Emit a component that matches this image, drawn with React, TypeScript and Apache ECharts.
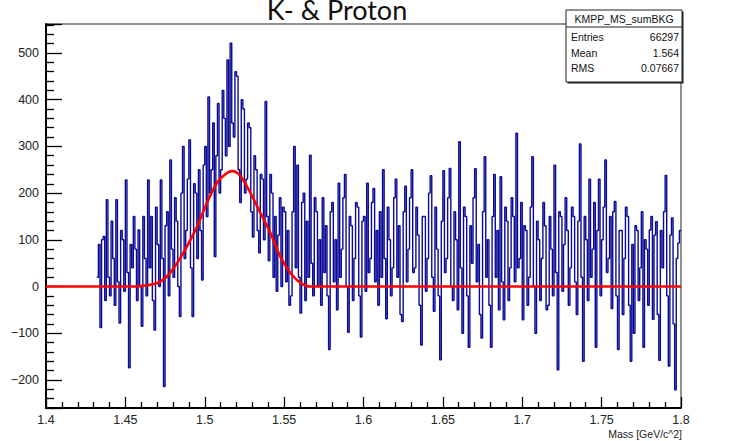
import React, { useEffect, useRef } from 'react';
import * as echarts from 'echarts';

const chartTitle = 'K- & Proton';
const xAxisTitle = 'Mass [GeV/c^2]';
const statsName = 'KMPP_MS_sumBKG';
const statsLabels = ['Entries', 'Mean', 'RMS'];
const statsValues = ['66297', '1.564', '0.07667'];

const binStart = 1.432;
const binWidth = 0.001;
const counts = [
  20, 90, -88, 100, 107, -30, 186, 20, -20, 140,
  60, -40, 186, 10, -78, 120, 100, -10, 228, 30,
  -174, 90, 40, 150, 80, -30, 121, 0, -85, 150,
  60, -20, 228, 40, 150, -30, -93, 170, 90, 0,
  228, 60, -214, 130, 160, -20, 271, 80, 20, 190,
  140, 0, -64, 200, 300, 60, 120, 230, 314, 40,
  -64, 220, 200, 60, 250, 120, 14, 260, 300, 150,
  406, 200, 250, 350, 64, 280, 392, 200, 250, 420,
  360, 280, 485, 300, 521, 350, 320, 460, 450, 250,
  180, 400, 380, 200, 230, 350, 340, 160, 106, 280,
  250, 120, 72, 240, 230, 100, 396, 150, 55, 240,
  200, 20, 150, -10, 110, 190, 0, 170, 160, 10,
  120, -40, -20, 160, 300, 40, 260, 20, -57, 180,
  200, -30, 140, 20, 281, 50, -20, 190, 160, 0,
  100, -40, 190, 30, 130, -20, -135, 160, 180, 10,
  100, -50, 221, 20, 80, 190, 240, 0, -98, 150,
  130, -30, 60, 180, 170, -20, -108, 140, 150, -10,
  221, 30, 60, 180, 210, 10, 120, -40, 160, 20,
  250, 60, -69, 170, 100, -20, 40, 190, 230, 20,
  130, -60, -75, 160, 215, 10, 80, 190, 250, 30,
  40, 170, 110, -40, -125, 150, 150, -10, 60, 200,
  237, 20, -53, 170, 80, -20, -157, 140, 248, 30,
  60, 190, 253, 0, -30, 160, 100, -50, 310, 40,
  -100, 170, 150, -20, -130, 130, 50, 190, 252, 10,
  90, -60, -110, 160, 278, 20, 100, -40, -130, 150,
  240, 20, 120, -50, 235, 10, -71, 170, 140, -30,
  40, 190, 150, 10, 328, 40, 60, 180, -71, 130,
  120, -40, 20, 170, 278, 0, -100, 140, 100, -30,
  60, 180, 130, -50, -40, 150, 80, -20, 260, 30,
  -178, 160, 150, -10, 90, 190, 120, -40, 40, 170,
  150, 10, -60, 140, 305, 20, -160, 150, 100, -30,
  230, 20, 80, 180, -130, 120, 230, -20, 100, 170,
  271, 30, 60, 150, -47, 160, 182, -20, -135, 120,
  120, -60, 60, 170, 150, -40, -160, 90, -100, 130,
  120, -30, 40, 160, -130, 100, 80, -40, 121, 150,
  -70, 110, 139, -60, -158, 120, 40, 160, 238, -20,
  -170, 110, 147, -80, -221, 60, 93, 120,
];

const fitMass = [1.4, 1.455, 1.462, 1.4698, 1.476, 1.4825, 1.4888, 1.4951, 1.5014, 1.5077, 1.514, 1.5175, 1.5224, 1.5287, 1.535, 1.5413, 1.5476, 1.554, 1.5603, 1.5666, 1.575, 1.6, 1.8];
const fitValue = [0, 0, 2, 7, 21, 50, 86, 128, 179, 222, 243, 247, 237, 201, 158, 115, 64, 29, 8, 0, 0, 0, 0];

const fmtY = (v: number) => (v < 0 ? '\u2212' + Math.abs(v) : String(v));
const fmtX = (v: number) => String(parseFloat(Number(v).toFixed(3)));

export default function App() {
  const ref = useRef<HTMLDivElement>(null);
  useEffect(() => {
    const chart = echarts.init(ref.current as HTMLDivElement, null, { renderer: 'svg' });
    const histData: number[][] = counts.map((v, i) => [binStart + i * binWidth, v]);
    histData.push([binStart + counts.length * binWidth, counts[counts.length - 1]]);
    const fitData = fitMass.map((m, i) => [m, fitValue[i]]);
    const labelFont = 'Liberation Sans, Arial, sans-serif';
    const statsX = 566, statsY = 10, statsW = 116, statsH = 72;
    const graphic: any[] = [
      {
        type: 'text', x: 337, y: 9, z: 100,
        style: { text: chartTitle, font: '27px Lato, sans-serif', fill: '#111', textAlign: 'center', textVerticalAlign: 'middle' },
      },
      {
        type: 'text', x: 682, y: 434, z: 100,
        style: { text: xAxisTitle, font: '10.5px ' + labelFont, fill: '#222', textAlign: 'right', textVerticalAlign: 'middle' },
      },
      { type: 'rect', z: 100, shape: { x: statsX + 1.5, y: statsY + 1.5, width: statsW, height: statsH }, style: { fill: '#222' } },
      { type: 'rect', z: 101, shape: { x: statsX, y: statsY, width: statsW, height: statsH }, style: { fill: '#fff', stroke: '#222', lineWidth: 1 } },
      { type: 'line', z: 102, shape: { x1: statsX, y1: 27, x2: statsX + statsW, y2: 27 }, style: { stroke: '#222', lineWidth: 1 } },
      {
        type: 'text', x: statsX + statsW / 2, y: 18.5, z: 103,
        style: { text: statsName, font: '10.5px ' + labelFont, fill: '#111', textAlign: 'center', textVerticalAlign: 'middle' },
      },
    ];
    statsLabels.forEach((lab, i) => {
      const y = 37 + i * 15.5;
      graphic.push({ type: 'text', x: statsX + 5, y, z: 103, style: { text: lab, font: '10.5px ' + labelFont, fill: '#111', textAlign: 'left', textVerticalAlign: 'middle' } });
      graphic.push({ type: 'text', x: statsX + statsW - 3, y, z: 103, style: { text: statsValues[i], font: '10.5px ' + labelFont, fill: '#111', textAlign: 'right', textVerticalAlign: 'middle' } });
    });

    chart.setOption({
      animation: false,
      backgroundColor: '#fff',
      grid: { left: 46, right: 63, top: 24, bottom: 33, show: true, borderColor: '#222', borderWidth: 1, backgroundColor: 'transparent' },
      xAxis: {
        type: 'value', min: 1.4, max: 1.8, interval: 0.05,
        axisLine: { show: true, onZero: false, lineStyle: { color: '#000', width: 2 } },
        axisTick: { show: true, inside: true, length: 11, lineStyle: { color: '#000', width: 1.3 } },
        minorTick: { show: true, splitNumber: 5, length: 6, lineStyle: { color: '#000', width: 1.3 } },
        axisLabel: { color: '#222', fontSize: 12.5, fontFamily: labelFont, margin: 5, formatter: fmtX },
        splitLine: { show: false },
        minorSplitLine: { show: false },
      },
      yAxis: {
        type: 'value', min: -260, max: 562, splitNumber: 8,
        axisLine: { show: true, onZero: false, lineStyle: { color: '#000', width: 2 } },
        axisTick: { show: true, inside: true, length: 16, lineStyle: { color: '#000', width: 1.3 } },
        minorTick: { show: true, splitNumber: 5, length: 8, lineStyle: { color: '#000', width: 1.3 } },
        axisLabel: { color: '#222', fontSize: 12.5, fontFamily: labelFont, margin: 7, formatter: fmtY, showMinLabel: false, showMaxLabel: false },
        splitLine: { show: false },
        minorSplitLine: { show: false },
      },
      series: [
        {
          type: 'line', data: histData, step: 'end', showSymbol: false, symbol: 'none',
          lineStyle: { color: '#0a0a96', width: 1.4 }, z: 3,
        },
        {
          type: 'line', data: fitData, smooth: 0.3, showSymbol: false, symbol: 'none',
          lineStyle: { color: '#ff0000', width: 2.6 }, z: 4,
        },
      ],
      graphic,
    });
    return () => chart.dispose();
  }, []);
  return <div ref={ref} style={{ position: 'fixed', left: 0, top: 0, width: 744, height: 441, background: '#fff' }} />;
}
